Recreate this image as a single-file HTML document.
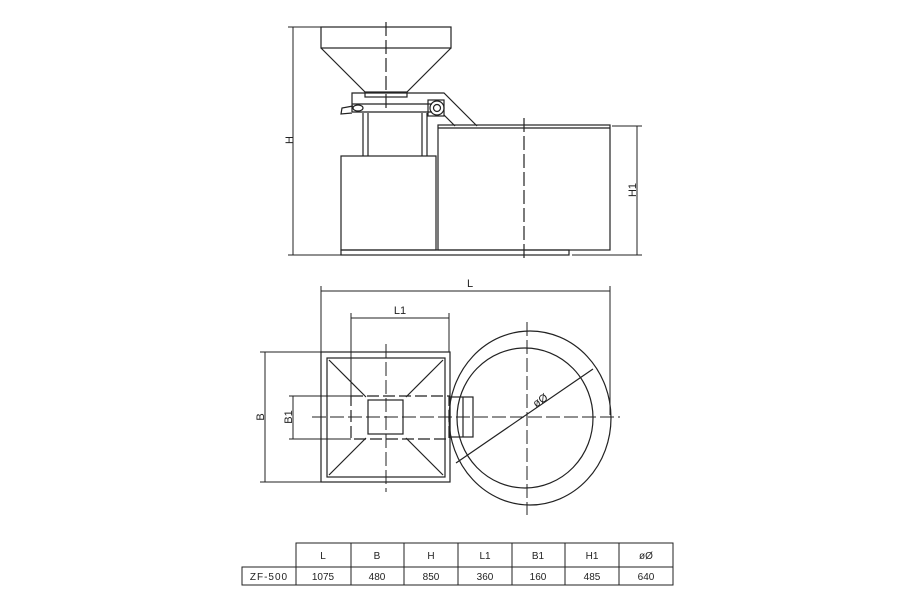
<!DOCTYPE html>
<html><head><meta charset="utf-8"><style>
html,body{margin:0;padding:0;background:#fff;}
svg{display:block;}
text{font-family:"Liberation Sans",sans-serif;fill:#222;}
</style></head><body>
<svg width="900" height="600" viewBox="0 0 900 600" xmlns="http://www.w3.org/2000/svg">
<g stroke="#222" stroke-width="1.2" fill="none">
<!-- Front view -->
<rect x="321" y="27" width="130" height="21"/>
<line x1="321" y1="48" x2="365" y2="92"/>
<line x1="451" y1="48" x2="407" y2="92"/>
<rect x="365" y="92" width="42" height="5"/>
<polyline points="352,112 352,93 444,93 477,126"/>
<line x1="352" y1="104" x2="432" y2="104"/>
<line x1="352" y1="112" x2="432" y2="112"/>
<line x1="444" y1="115" x2="455" y2="126"/>
<path d="M353,106 L342,108 L341,114 L352,113"/>
<ellipse cx="358" cy="108" rx="5" ry="3"/>
<rect x="428" y="100" width="16" height="16"/>
<circle cx="437" cy="108" r="7"/>
<circle cx="437" cy="108" r="3.5"/>
<line x1="363" y1="113" x2="363" y2="156"/>
<line x1="368" y1="113" x2="368" y2="156"/>
<line x1="422" y1="113" x2="422" y2="156"/>
<line x1="427" y1="113" x2="427" y2="156"/>
<rect x="341" y="156" width="95" height="94"/>
<rect x="438" y="125" width="172" height="125"/>
<line x1="438" y1="128" x2="610" y2="128"/>
<rect x="341" y="250" width="228" height="5"/>
<line x1="386" y1="22" x2="386" y2="112" stroke-dasharray="14,4"/>
<line x1="524" y1="118" x2="524" y2="258" stroke-dasharray="14,4"/>
<!-- H dim -->
<line x1="293" y1="27" x2="293" y2="255" stroke-width="1"/>
<line x1="288" y1="27" x2="321" y2="27" stroke-width="1"/>
<line x1="288" y1="255" x2="341" y2="255" stroke-width="1"/>
<line x1="637" y1="126" x2="637" y2="255" stroke-width="1"/>
<line x1="612" y1="126" x2="642" y2="126" stroke-width="1"/>
<line x1="572" y1="255" x2="642" y2="255" stroke-width="1"/>
<!-- Plan view -->
<line x1="321" y1="291" x2="610" y2="291" stroke-width="1"/>
<line x1="321" y1="286" x2="321" y2="352" stroke-width="1"/>
<line x1="610" y1="286" x2="610" y2="415" stroke-width="1"/>
<line x1="351" y1="318" x2="449" y2="318" stroke-width="1"/>
<line x1="351" y1="313" x2="351" y2="396" stroke-width="1"/>
<line x1="449" y1="313" x2="449" y2="352" stroke-width="1"/>
<rect x="321" y="352" width="129" height="130"/>
<rect x="327" y="358" width="118" height="119"/>
<line x1="329" y1="360" x2="366" y2="397"/>
<line x1="443" y1="360" x2="406" y2="397"/>
<line x1="329" y1="475" x2="366" y2="438"/>
<line x1="443" y1="475" x2="406" y2="438"/>
<rect x="351" y="396" width="98" height="43" stroke-dasharray="12,4"/>
<rect x="368" y="400" width="35" height="34"/>
<rect x="450" y="397" width="23" height="40"/>
<line x1="463" y1="397" x2="463" y2="437"/>
<ellipse cx="530" cy="418" rx="81" ry="87"/>
<ellipse cx="525" cy="418" rx="68" ry="70"/>
<line x1="456" y1="463" x2="593" y2="369"/>
<line x1="312" y1="417" x2="620" y2="417" stroke-dasharray="14,4" stroke-width="1"/>
<line x1="386" y1="344" x2="386" y2="492" stroke-dasharray="14,4" stroke-width="1"/>
<line x1="527" y1="322" x2="527" y2="515" stroke-dasharray="14,4" stroke-width="1"/>
<line x1="265" y1="352" x2="265" y2="482" stroke-width="1"/>
<line x1="260" y1="352" x2="321" y2="352" stroke-width="1"/>
<line x1="260" y1="482" x2="321" y2="482" stroke-width="1"/>
<line x1="293" y1="396" x2="293" y2="439" stroke-width="1"/>
<line x1="289" y1="396" x2="351" y2="396" stroke-width="1"/>
<line x1="289" y1="439" x2="351" y2="439" stroke-width="1"/>
<!-- table -->
<g stroke-width="1">
<rect x="296" y="543" width="377" height="42"/>
<rect x="242" y="567" width="54" height="18"/>
<line x1="296" y1="567" x2="673" y2="567"/>
<line x1="351" y1="543" x2="351" y2="585"/>
<line x1="404" y1="543" x2="404" y2="585"/>
<line x1="458" y1="543" x2="458" y2="585"/>
<line x1="512" y1="543" x2="512" y2="585"/>
<line x1="565" y1="543" x2="565" y2="585"/>
<line x1="619" y1="543" x2="619" y2="585"/>
</g>
</g>
<g font-size="11" text-anchor="middle">
<text x="289" y="144" transform="rotate(-90 289 140)">H</text>
<text x="632" y="194" transform="rotate(-90 632 190)">H1</text>
<text x="470" y="287">L</text>
<text x="400" y="314">L1</text>
<text x="260" y="421" transform="rotate(-90 260 417)">B</text>
<text x="288" y="421" transform="rotate(-90 288 417)">B1</text>
<text x="540" y="404" transform="rotate(-34 540 400)">øØ</text>
</g>
<g font-size="10" text-anchor="middle">
<text x="323" y="559">L</text><text x="377" y="559">B</text><text x="431" y="559">H</text>
<text x="485" y="559">L1</text><text x="538" y="559">B1</text><text x="592" y="559">H1</text><text x="646" y="559">øØ</text>
<text x="269" y="580" letter-spacing="1">ZF-500</text>
<text x="323" y="580">1075</text><text x="377" y="580">480</text><text x="431" y="580">850</text>
<text x="485" y="580">360</text><text x="538" y="580">160</text><text x="592" y="580">485</text><text x="646" y="580">640</text>
</g>
</svg>
</body></html>
